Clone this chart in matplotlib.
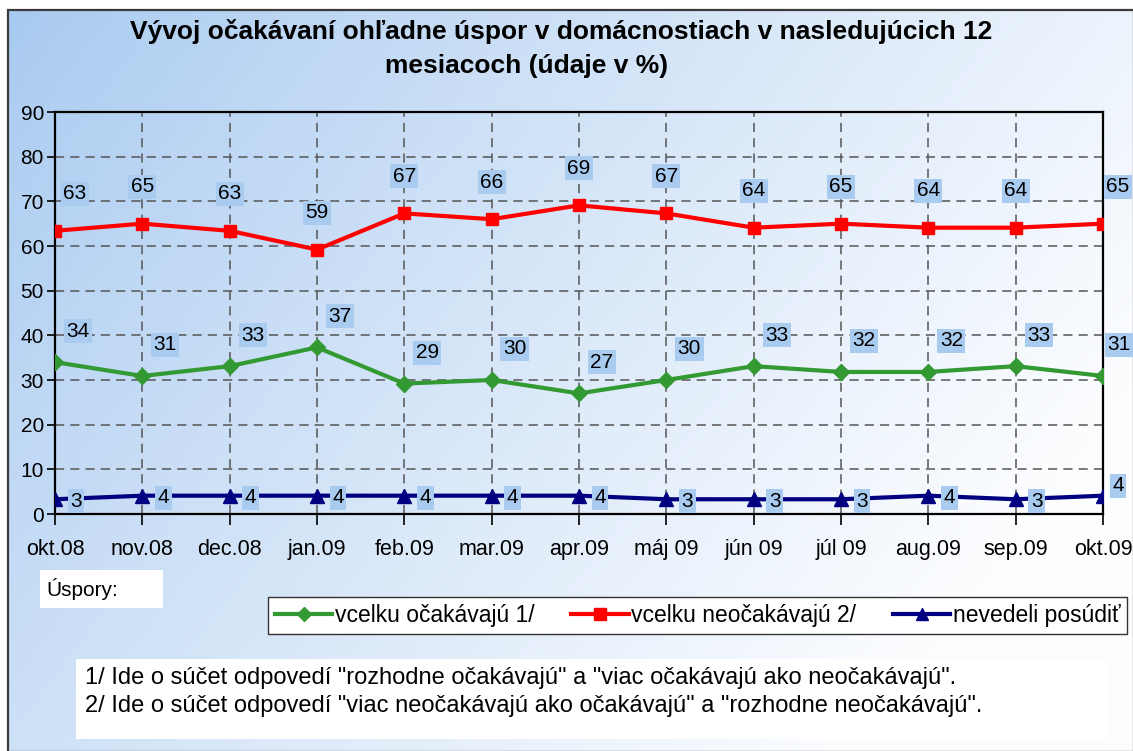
import numpy as np
import matplotlib
matplotlib.use("Agg")
import matplotlib.pyplot as plt
from matplotlib.lines import Line2D
from matplotlib.patches import Rectangle

plt.rcParams['font.family'] = ['Liberation Sans', 'DejaVu Sans']

# ---- data ----
months = ["okt.08", "nov.08", "dec.08", "jan.09", "feb.09", "mar.09", "apr.09",
          "máj 09", "jún 09", "júl 09", "aug.09", "sep.09", "okt.09"]
expect = [34.0, 30.9, 33.1, 37.3, 29.2, 30.0, 27.0, 30.0, 33.1, 31.8, 31.8, 33.1, 30.9]
not_expect = [63.4, 65.0, 63.4, 59.2, 67.3, 66.0, 69.1, 67.3, 64.1, 65.0, 64.1, 64.1, 65.0]
dont_know = [3.3, 4.1, 4.1, 4.1, 4.1, 4.1, 4.1, 3.3, 3.3, 3.3, 4.1, 3.3, 4.1]
series_names = ["vcelku očakávajú 1/", "vcelku neočakávajú 2/", "nevedeli posúdiť"]
title_lines = ["Vývoj očakávaní ohľadne úspor v domácnostiach v nasledujúcich 12",
               "mesiacoch (údaje v %)"]
footnotes = ['1/ Ide o súčet odpovedí "rozhodne očakávajú" a "viac očakávajú ako neočakávajú".',
             '2/ Ide o súčet odpovedí "viac neočakávajú ako očakávajú" a "rozhodne neočakávajú".']
yticks = [0, 10, 20, 30, 40, 50, 60, 70, 80, 90]

W, H = 1133, 751
fig = plt.figure(figsize=(W / 100, H / 100), dpi=100)
fig.patch.set_facecolor("white")

def fx(px):
    return px / W

def fy(py):
    return 1 - py / H

# background gradient
bg = fig.add_axes([0, 0, 1, 1], zorder=-5)
bg.set_xlim(0, W)
bg.set_ylim(H, 0)
bg.axis("off")
xx, yy = np.meshgrid(np.linspace(0, 1, 300), np.linspace(0, 1, 200))
t = np.clip(xx * 0.8 + yy * 0.4, 0, 1) ** 0.9
c0 = np.array([168, 202, 240]) / 255.0
c1 = np.array([252, 253, 255]) / 255.0
img = c0[None, None, :] * (1 - t[..., None]) + c1[None, None, :] * t[..., None]
bg.imshow(img, extent=[8, W, H, 10], aspect="auto", interpolation="bilinear")
bg.add_patch(Rectangle((8, 10), W - 7, H - 9, fill=False, edgecolor="#3a3a3a", lw=1.6))
# white boxes
bg.add_patch(Rectangle((40, 570), 123, 38, facecolor="white", edgecolor="none"))
bg.add_patch(Rectangle((76, 659), 1031, 80, facecolor="white", edgecolor="none"))

# title
fig.text(fx(561), fy(32), title_lines[0], ha="center", va="center",
         fontsize=19, fontweight="bold")
fig.text(fx(527), fy(66), title_lines[1], ha="center", va="center",
         fontsize=19, fontweight="bold")

ax = fig.add_axes([fx(55), fy(514), fx(1103) - fx(55), fy(112) - fy(514)])
ax.set_facecolor("none")
x = np.arange(len(months))

ax.plot(x, expect, color="#339933", lw=3, marker="D", ms=8, label=series_names[0], zorder=5)
ax.plot(x, not_expect, color="#ff0000", lw=3, marker="s", ms=9, label=series_names[1], zorder=5)
ax.plot(x, dont_know, color="#000080", lw=3, marker="^", ms=10, label=series_names[2], zorder=5)

ax.set_xlim(0, len(months) - 1)
ax.set_ylim(0, 90)
ax.set_yticks(yticks)
ax.set_xticks(x)
ax.set_xticklabels(months, fontsize=15.5)
ax.tick_params(axis="y", labelsize=15, length=6, width=1.2, direction="out", pad=2)
ax.tick_params(axis="x", length=8, width=1.2, direction="out", pad=10)
ax.grid(True, color="#555555", linestyle=(0, (6, 4)), lw=1.1)
for s in ax.spines.values():
    s.set_color("black")
    s.set_linewidth(1.6)

box = dict(boxstyle="square,pad=0.12", facecolor="#a9cbf0", edgecolor="none")

def lab(xv, yv, dx, dy):
    ax.annotate(f"{yv:.0f}", (xv, yv), xytext=(dx, dy), textcoords="offset pixels",
                ha="center", va="center", fontsize=15, bbox=box, zorder=6,
                annotation_clip=False)

for i, v in enumerate(not_expect):
    dx = 20 if i == 0 else (15 if i == len(x) - 1 else 0)
    lab(i, v, dx, 37)
for i, v in enumerate(expect):
    lab(i, v, 16 if i == len(x) - 1 else 23, 31)
for i, v in enumerate(dont_know):
    if i == len(x) - 1:
        lab(i, v, 15, 10)
    else:
        lab(i, v, 21, -2)

# legend
handles = [Line2D([], [], color="#339933", lw=3, marker="D", ms=7),
           Line2D([], [], color="#ff0000", lw=3, marker="s", ms=8),
           Line2D([], [], color="#000080", lw=3, marker="^", ms=9)]
leg = fig.legend(handles, series_names, loc="upper left", bbox_to_anchor=(fx(268), fy(597)),
                 ncol=3, fontsize=16.5, frameon=True, fancybox=False, handlelength=2.5,
                 columnspacing=1.6, handletextpad=0.12, borderpad=0.3, borderaxespad=0)
leg.get_frame().set_edgecolor("#333333")
leg.get_frame().set_linewidth(1.0)
leg.get_frame().set_facecolor("white")
leg.get_frame().set_alpha(1)

fig.text(fx(46), fy(589), "Úspory:", ha="left", va="center", fontsize=15)
fig.text(fx(85), fy(678), footnotes[0], ha="left", va="center", fontsize=17)
fig.text(fx(85), fy(706), footnotes[1], ha="left", va="center", fontsize=17)

fig.savefig("out.png", dpi=100)
